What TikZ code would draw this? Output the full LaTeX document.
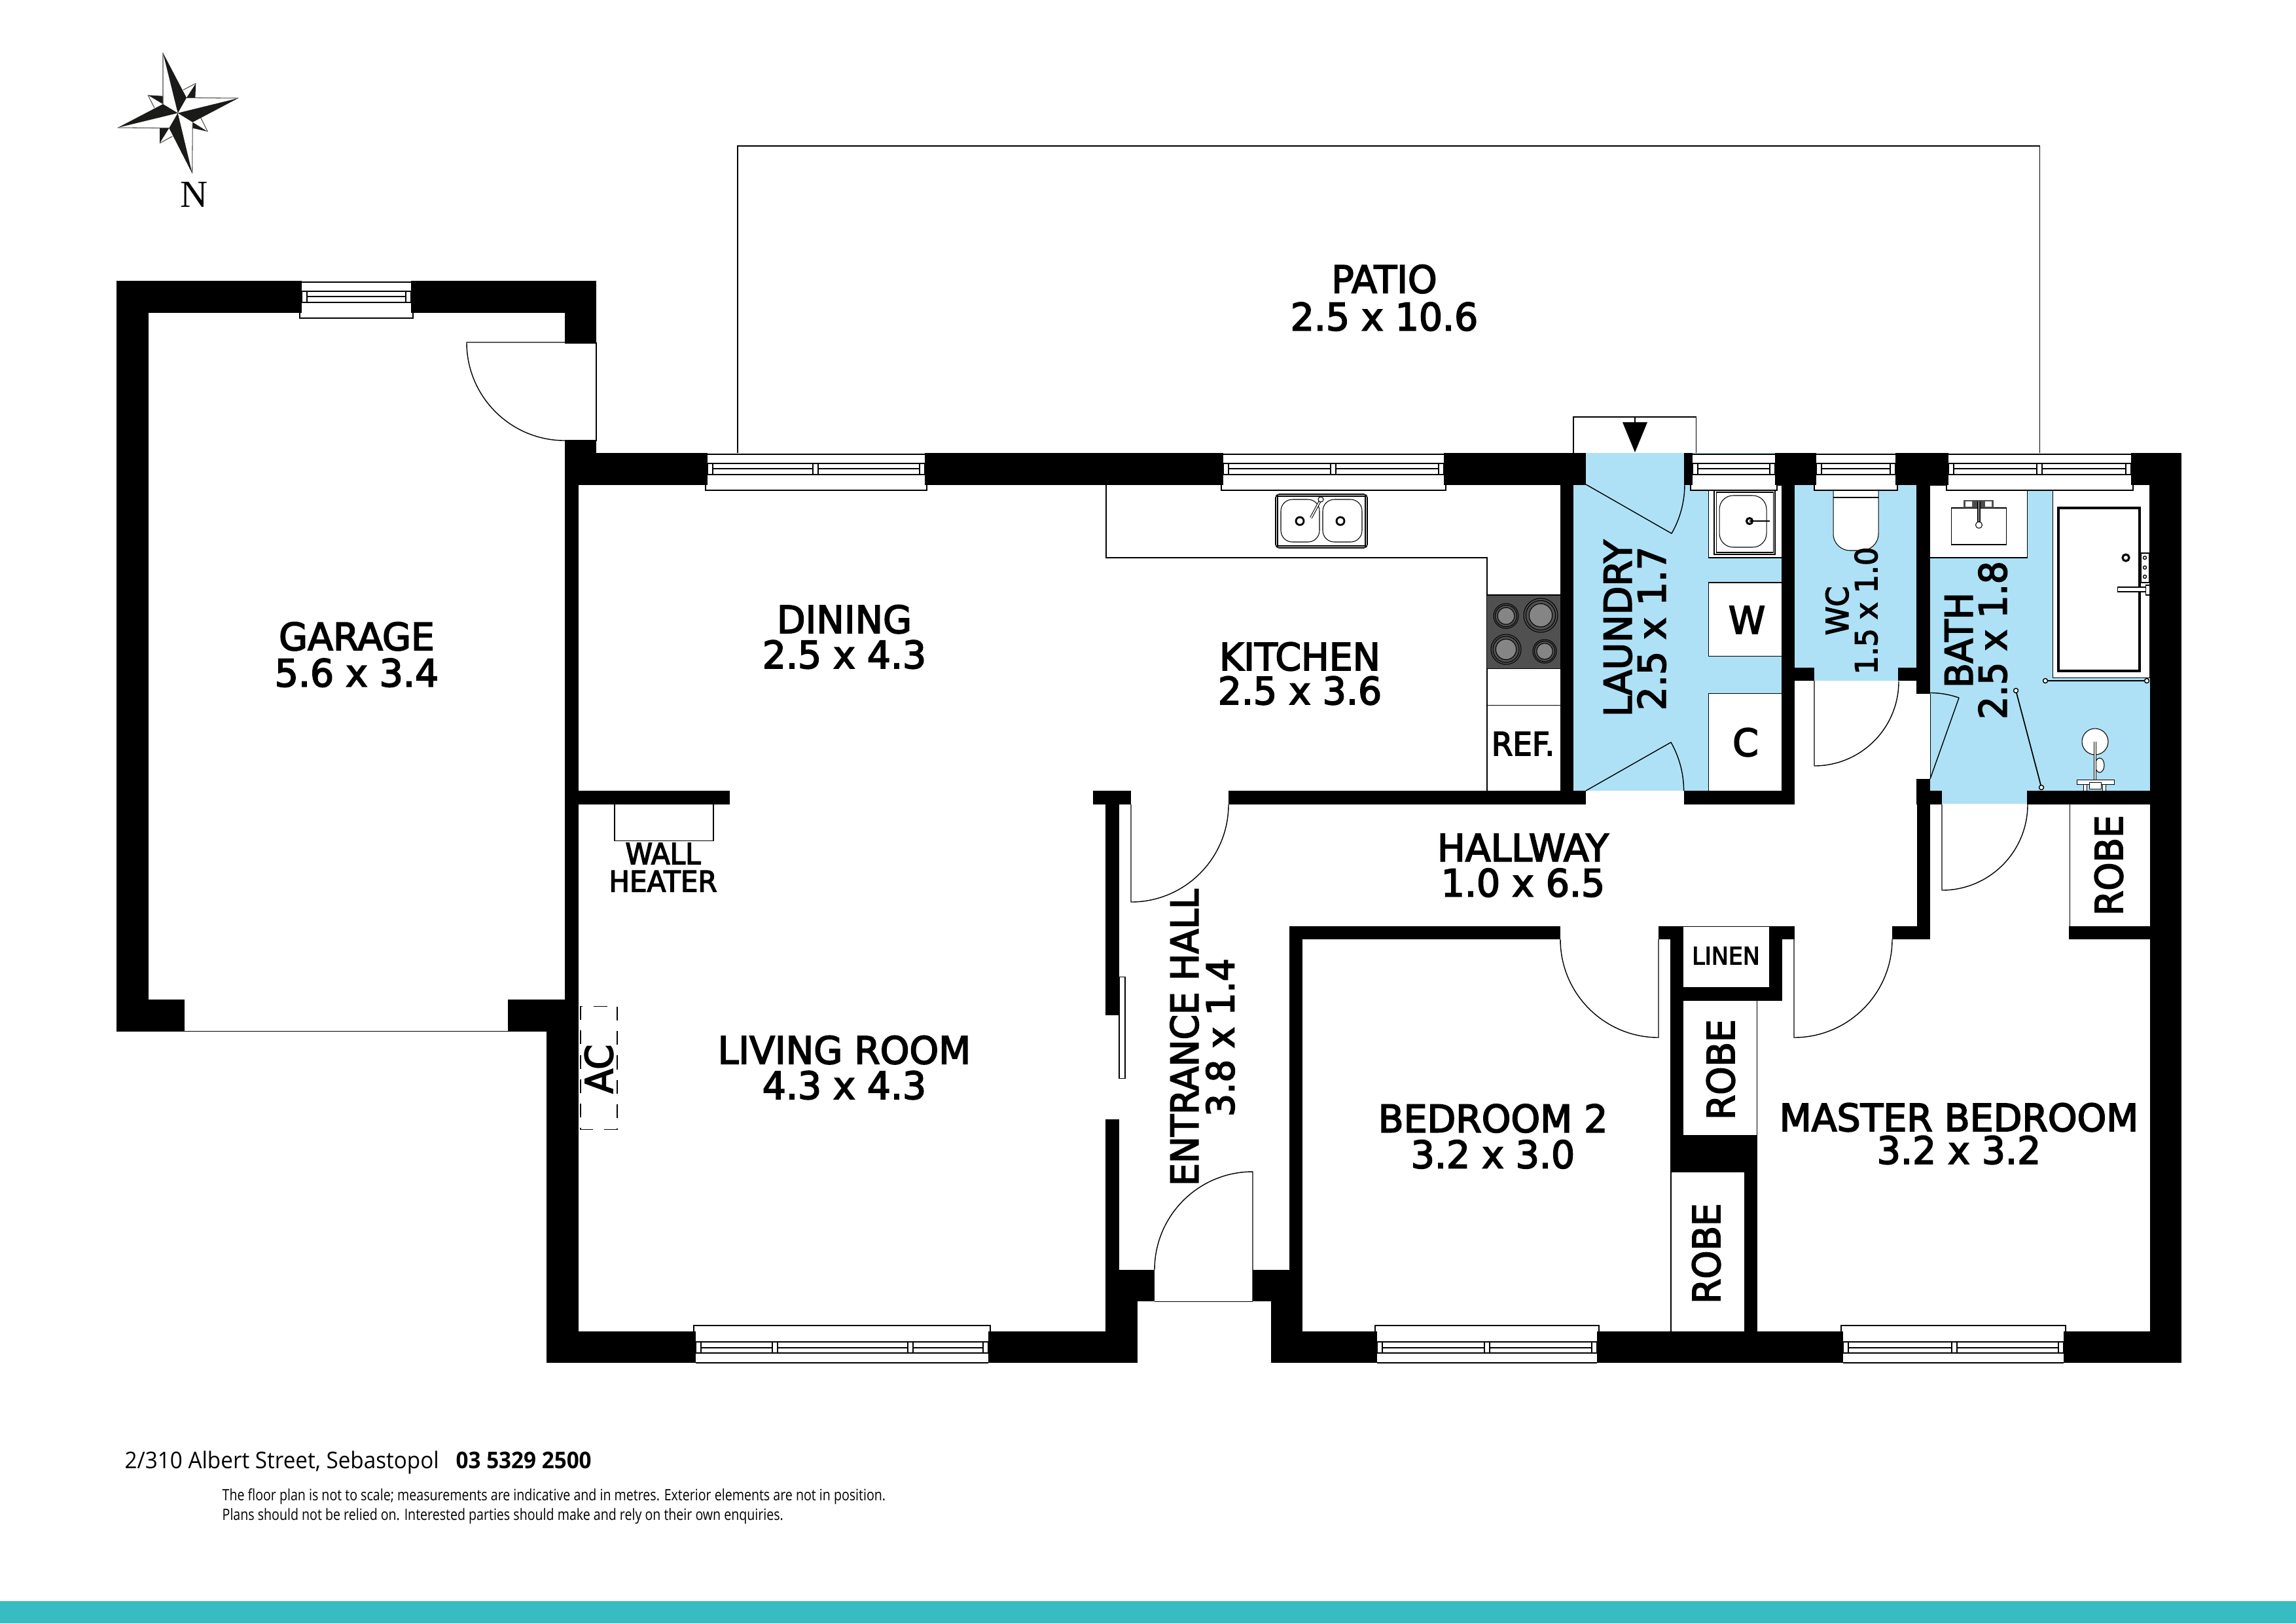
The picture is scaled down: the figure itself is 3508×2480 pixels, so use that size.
\documentclass[tikz,border=0pt]{standalone}
\usepackage{fontspec}
\setmainfont{DejaVu Sans}[FakeStretch=0.985,FakeBold=3.2]
\newfontfamily\narrowfont{DejaVu Sans}[FakeStretch=0.95,FakeBold=3.2]
\newfontfamily\compassfont{Liberation Serif}
\newfontfamily\addressfont{Open Sans}[FakeStretch=0.945]
\newfontfamily\notefont{Open Sans}[FakeStretch=0.82]
\definecolor{wetblue}{HTML}{AEE1F5}
\definecolor{bandteal}{HTML}{38BCC4}
\definecolor{hobgrey}{HTML}{505050}
\definecolor{ringgrey}{HTML}{858585}
\definecolor{starblack}{HTML}{1A1A18}

\begin{document}
\begin{tikzpicture}[x=0.01cm,y=-0.01cm,
    wall/.style={fill=black,draw=none},
    thin line/.style={draw=black,line width=0.3pt},
    fitting/.style={draw=black,fill=white,line width=0.3pt},
    frame/.style={draw=black,line width=0.45pt},
    door/.style={draw=black,line width=0.4pt,line join=round},
    room/.style={align=center,inner sep=0pt,font=\fontsize{16.4}{14.8}\selectfont},
    narrow room/.style={room,font=\narrowfont\fontsize{16.4}{14.8}\selectfont},
    small room/.style={room,font=\narrowfont\fontsize{13.2}{12.6}\selectfont},
    upright/.style={rotate=90}]
    \useasboundingbox (0,0) rectangle (3508,2480);
    \fill[white] (0,0) rectangle (3508,2480);
    \fill[bandteal] (0,2446) rectangle (3508,2480);

    % patio
    \draw[thin line] (1127,692) -- (1127,223) -- (3116,223) -- (3116,692);
    \draw[thin line] (2404,692) -- (2404,637) -- (2591,637) -- (2591,692);
    \draw[thin line] (2498,637) -- (2498,650);
    \fill[black] (2479,645) -- (2517,645) -- (2498,691) -- cycle;

    % wet areas
    \fill[wetblue] (2404,692) rectangle (2722,1208);
    \fill[wetblue] (2742,740) rectangle (2928,1040);
    \fill[wetblue] (2949,740) rectangle (3285,1208);
    \fill[wetblue] (2967,1208) rectangle (3098,1228);

    % fittings
    \draw[thin line] (1690,740) -- (1690,852) -- (2272,852) -- (2272,1208);
    \draw[thin line] (2272,1077) -- (2384,1077);
    \fill[hobgrey] (2272,909) rectangle (2384,1021);
    \draw[thin line] (2272,909) -- (2384,909) (2272,1021) -- (2384,1021);
    \foreach \bx/\by/\br in {2301/941/19, 2354/940/26, 2301/992/23, 2360/995/18}{
      \draw[black,line width=0.3pt] (\bx,\by) circle (\br);
      \draw[black,line width=0.3pt] (\bx,\by) circle ({\br*0.87});
      \draw[black,fill=ringgrey,line width=0.3pt] (\bx,\by) circle ({\br*0.68});
    }
    \draw[frame,rounded corners=1.5] (1949,755) rectangle (2089,837);
    \draw[thin line] (1952,758) rectangle (2086,834);
    \draw[thin line,rounded corners=5] (1957,763) rectangle (2016,828);
    \draw[thin line,rounded corners=5] (2021,763) rectangle (2081,828);
    \foreach \dx in {1986,2048}{
      \draw[black,line width=0.8pt] (\dx,796) circle (6);
    }
    \draw[black,line width=1.1pt] (2018,763) -- (2003,791);
    \draw[white,line width=0.5pt] (2018,763) -- (2003,791);
    \draw[black,fill=white,line width=0.3pt] (2018,763) circle (4);

    \fill[white,draw=black,line width=0.3pt] (2610,741) rectangle (2722,852);
    \draw[frame] (2619,749) rectangle (2712,847);
    \draw[thin line] (2622,752) rectangle (2709,844);
    \draw[thin line,rounded corners=6] (2627,757) rectangle (2699,836);
    \draw[black,line width=0.9pt] (2673,796) circle (4.5);
    \draw[black,line width=0.7pt] (2673,796) -- (2704,796);
    \draw[fitting] (2610,890) rectangle (2722,1002);
    \draw[fitting] (2610,1059) rectangle (2722,1208);

    \fill[white,draw=black,line width=0.3pt] (2949,741) -- (3097,741) -- (3097,852) -- (2949,852);
    \draw[thin line] (2981,776) rectangle (3065,832);
    \fill[black!70] (3000,764) rectangle (3046,776);
    \fill[white] (3003,766) rectangle (3013,774) (3033,766) rectangle (3043,774);
    \draw[black,line width=1.3pt] (3023.5,766) -- (3023.5,800);
    \draw[white,line width=0.5pt] (3023.5,766) -- (3023.5,800);
    \draw[black,fill=white,line width=0.3pt] (3023.5,802) circle (5);
    \draw[fitting] (3136,740) rectangle (3284,1035);
    \draw[black,line width=1pt] (3145,776) rectangle (3269,1025);
    \draw[black,line width=0.9pt] (3248,852) circle (5);
    \draw[fitting] (3271,845) rectangle (3283,890);
    \foreach \ty in {852,867,881}{
      \draw[black,line width=0.4pt] (3277,\ty) circle (2.5);
    }
    \draw[fitting] (3235,897) rectangle (3278,904);
    \draw[fitting] (3278,894) rectangle (3284,909);
    \draw[black,line width=0.5pt] (3125,1040) -- (3280,1040);
    \draw[black,line width=0.5pt] (3080,1055) -- (3119,1203);
    \foreach \rx/\ry in {3125/1040, 3280/1040, 3080/1055, 3119/1203}{
      \draw[black,fill=white,line width=0.4pt] (\rx,\ry) circle (3.5);
    }
    \draw[black,fill=white,line width=0.3pt] (3201,1133) ellipse (20 and 20);
    \draw[black,fill=white,line width=0.3pt] (3208,1169) ellipse (7 and 11);
    \draw[black,line width=1.1pt] (3201,1133) -- (3201,1203);
    \draw[white,line width=0.4pt] (3201,1133) -- (3201,1203);
    \draw[fitting] (3173,1191) rectangle (3230,1198);
    \draw[fitting] (3183,1198) rectangle (3188,1208);
    \draw[fitting] (3212,1198) rectangle (3217,1208);
    \draw[fitting] (3192,1195) rectangle (3210,1205);

    \draw[fitting] (2801,741) -- (2801,815) .. controls (2801,832) and (2815,841) .. (2826,841)
      -- (2845,841) .. controls (2856,841) and (2870,832) .. (2870,815) -- (2870,741);
    \draw[thin line] (2801,760) -- (2870,760);

    \draw[thin line] (939,1228) rectangle (1090,1284);
    \draw[thin line,dash pattern=on 6pt off 4.6pt] (887,1537) rectangle (943,1725);
    \draw[thin line] (1710,1492) rectangle (1719,1647);
    \draw[thin line] (2684,1529) -- (2684,1734);
    \draw[thin line] (2553,1791) -- (2553,2034);
    \draw[thin line] (3162,1229) -- (3162,1415);
    \draw[thin line] (2572,1415) -- (2703,1415);
    \draw[thin line] (282,1575) -- (776,1575);
    \draw[thin line] (2949,1060) -- (2949,1190);

    % walls
    \foreach \xa/\ya/\xb/\yb in {
      178/429/461/478, 628/429/911/478, 863/429/911/524, 863/673/911/741,
      178/429/226.5/1576, 178/1527/282/1576, 776/1527/884/1576,
      863/692/884/1527, 835/1527/884/2082,
      863/692/1081/741, 1413/692/1869/741, 2206/692/2423/741, 2573/692/2586/741,
      2712/692/2775/741, 2896/692/2977/741, 3256/692/3333/741,
      3285/692/3333/2082,
      835/2034/1063/2082, 1510/2034/1738/2082, 1942/2034/2104/2082,
      2440/2034/2816/2082, 3153/2034/3333/2082,
      884/1208/1115/1228.5, 1670/1208/1728/1229, 1877/1208/2423/1229,
      1689/1229/1710/1551, 1689/1710/1710/2034,
      1689/1940/1764/1988, 1689/1988/1738/2082, 1914/1940/1970/1988, 1942/1988/1970/2034,
      2384/740/2404/1229, 2573/1208/2742/1229, 2722/740/2742/1229,
      2742/1020/2772/1040, 2900/1020/2928/1040,
      2928/740/2949/1060, 2928/1190/2949/1229, 2928/1208/2967/1229, 3097/1208/3285/1229,
      2929/1208/2949/1435, 2891/1415/2949/1435,
      1970/1415/2384/1435, 1970/1415/1990/2034,
      2534/1415/2572/1435, 2552/1415/2572/1791, 2703/1415/2742/1435, 2703/1415/2723/1529,
      2572/1508/2723/1529, 2552/1734/2685/1791, 2665/1791/2685/2034, 3161/1415/3285/1435}{
      \fill[wall] (\xa,\ya) rectangle (\xb,\yb);
    }

    % windows
    \foreach \xa/\xb/\wy in {461/628/431, 1081/1413/694, 1869/2206/694, 2586/2712/694, 2775/2896/694, 2977/3256/694}{
      \draw[fitting,line width=0.45pt] (\xa-3,{\wy+47}) -- (\xa-3,{\wy+55}) -- (\xb+3,{\wy+55}) -- (\xb+3,{\wy+47});
      \fill[white] (\xa,\wy) rectangle (\xb,{\wy+55});
      \draw[frame] (\xa,\wy) -- (\xb,\wy);
      \draw[frame] (\xa-3,{\wy+55}) -- (\xb+3,{\wy+55});
      \draw[frame] (\xa,{\wy+14}) rectangle (\xb,{\wy+31});
      \draw[frame] (\xa+8,{\wy+14}) rectangle (\xb-8,{\wy+31});
      \draw[frame] (\xa+8,{\wy+22}) -- (\xb-8,{\wy+22});
    }
    \foreach \xa/\xb in {1063/1510, 2104/2440, 2816/3153}{
      \fill[white] (\xa,2034) rectangle (\xb,2082);
      \fill[white,draw=black,line width=0.45pt] (\xa-3,2034) -- (\xa-3,2025) -- (\xb+3,2025) -- (\xb+3,2034);
      \fill[white] (\xa,2026) rectangle (\xb,2040);
      \draw[frame] (\xa,2082) -- (\xb,2082);
      \draw[frame] (\xa,2050) rectangle (\xb,2067);
      \draw[frame] (\xa+8,2050) rectangle (\xb-8,2067);
      \draw[frame] (\xa+8,2059) -- (\xb-8,2059);
    }
    \foreach \xc/\wa/\wb in {1246/708/725, 2037/708/725, 3116/708/725, 1184/2050/2067, 1391/2050/2067, 2272/2050/2067, 2986/2050/2067}{
      \draw[frame,fill=white] (\xc-4,\wa) rectangle (\xc+4,\wb);
    }

    % doors
    \fill[white] (863,524) rectangle (911,673);
    \draw[thin line] (863,524) -- (911,524) -- (911,673) -- (863,673);
    \draw[door] (863,523) -- (713,523) arc[start angle=180,end angle=90,radius=150];
    \draw[door] (1728,1229) -- (1728,1378) arc[start angle=90,end angle=0,radius=149];
    \draw[door] (1914,1988) -- (1914,1790) arc[start angle=-90,end angle=-180,radius=150];
    \draw[thin line] (1764,1988) -- (1914,1988);
    \draw[door] (2534,1435) -- (2534,1585) arc[start angle=90,end angle=180,radius=150];
    \draw[door] (2741,1435) -- (2741,1585) arc[start angle=90,end angle=0,radius=150];
    \draw[door] (2772,1040) -- (2772,1170) arc[start angle=90,end angle=0,radius=129];
    \draw[door] (2967,1229) -- (2967,1360) arc[start angle=90,end angle=0,radius=131];
    \draw[door] (2949,1190) -- (2993,1066) arc[start angle=-70.5,end angle=-90,radius=131.6];
    \draw[door] (2423,740) -- (2554,815) arc[start angle=29.8,end angle=0,radius=151];
    \draw[door] (2423,1208) -- (2553,1134) arc[start angle=-29.6,end angle=0,radius=150];

    % compass
    \fill[starblack] (249,80.7) -- (285,149.3) -- (271.7,172.7) -- cycle;
    \fill[starblack] (364,150) -- (294.3,186.7) -- (271.7,172.7) -- cycle;
    \fill[starblack] (293.7,265) -- (258.3,195.7) -- (271.7,172.7) -- cycle;
    \fill[starblack] (180,195) -- (249,159) -- (271.7,172.7) -- cycle;
    \fill[starblack] (299.3,127.3) -- (298.3,150) -- (285,149.3) -- cycle;
    \fill[starblack] (317.3,201) -- (294.3,186.7) -- (294.3,195.7) -- cycle;
    \fill[starblack] (244,218.7) -- (244,195.7) -- (258.3,195.7) -- cycle;
    \fill[starblack] (226,145.3) -- (249,146.7) -- (249,159) -- cycle;
    \draw[thin line,black!70] (249,80.7) -- (249,159) (364,150) -- (285,149.3) (293.7,265) -- (294.3,186.7) (180,195) -- (258.3,195.7)
      (299.3,127.3) -- (280,137.3) (317.3,201) -- (306.7,180) (244,218.7) -- (263.3,208.3) (226,145.3) -- (236,165);
    \node[inner sep=0pt,font=\compassfont\fontsize{16.6}{18}\selectfont] (north) at (296.7,297.5) {N};

    % labels
    \node[room] (patio) at (2115,455) {PATIO\\[1.5pt]2.5 x 10.6};
    \node[room] (garage) at (545,1000) {GARAGE\\[1pt]5.6 x 3.4};
    \node[room] (dining) at (1290,973) {DINING\\[0.5pt]2.5 x 4.3};
    \node[room] (kitchen) at (1986,1029) {KITCHEN\\2.5 x 3.6};
    \node[room] (living) at (1290,1631) {LIVING ROOM\\[0.5pt]4.3 x 4.3};
    \node[room] (hallway) at (2327,1322) {HALLWAY\\[0.5pt]1.0 x 6.5};
    \node[room] (bedtwo) at (2281,1736) {BEDROOM 2\\[0.8pt]3.2 x 3.0};
    \node[room] (master) at (2993,1732) {MASTER BEDROOM\\[-0.6pt]3.2 x 3.2};
    \node[narrow room,upright] (entrance) at (1837,1585) {ENTRANCE HALL\\[0.8pt]3.8 x 1.4};
    \node[room,upright] (laundry) at (2498,960) {LAUNDRY\\2.5 x 1.7};
    \node[narrow room,upright] (bath) at (3019,978) {BATH\\2.5 x 1.8};
    \node[small room,upright] (wc) at (2829,933) {WC\\1.5 x 1.0};
    \node[room] (washer) at (2669,947) {W};
    \node[room] (cupboard) at (2667,1134) {C};
    \node[narrow room,upright] (robea) at (2629,1634) {ROBE};
    \node[narrow room,upright] (robeb) at (2607,1915) {ROBE};
    \node[narrow room,upright] (robec) at (3222,1322) {ROBE};
    \node[small room,font=\narrowfont\fontsize{10.4}{10}\selectfont] (linen) at (2637,1460) {LINEN};
    \node[small room,font=\narrowfont\fontsize{14}{14}\selectfont] (ref) at (2327,1136) {REF.};
    \node[small room,font=\narrowfont\fontsize{12.6}{12}\selectfont] (heater) at (1013,1325) {WALL\\HEATER};
    \node[narrow room,upright] (ac) at (915,1633) {AC};

    % footer
    \node[anchor=base west,inner sep=0pt,font=\addressfont\fontsize{10}{12}\selectfont] (address) at (190,2243) {2/310 Albert Street, Sebastopol};
    \node[anchor=base west,inner sep=0pt,font=\addressfont\fontsize{10}{12}\selectfont] (phone) at (696,2243) {\textbf{03 5329 2500}};
    \node[anchor=base west,inner sep=0pt,font=\notefont\fontsize{6.8}{8}\selectfont] (noteone) at (339,2292) {The floor plan is not to scale; measurements are indicative and in metres. Exterior elements are not in position.};
    \node[anchor=base west,inner sep=0pt,font=\notefont\fontsize{6.8}{8}\selectfont] (notetwo) at (339,2322) {Plans should not be relied on. Interested parties should make and rely on their own enquiries.};
  \end{tikzpicture}
\end{document}
